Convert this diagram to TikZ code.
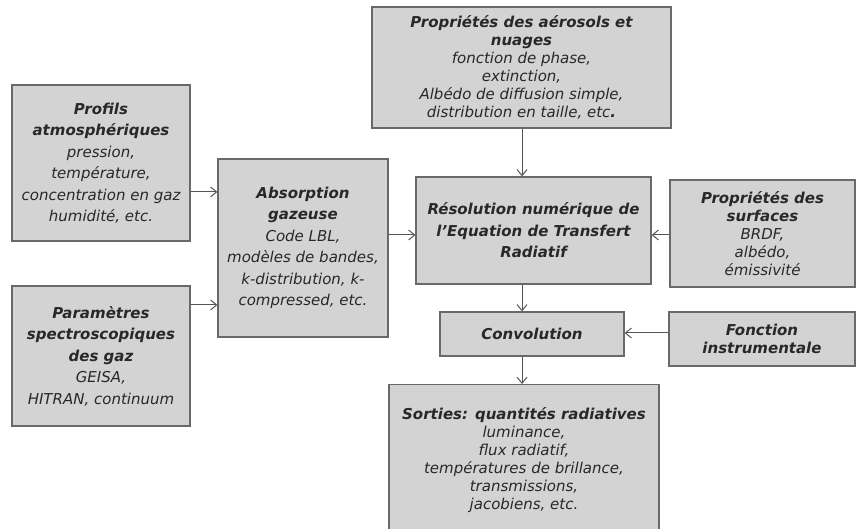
\documentclass[tikz,border=0pt]{standalone}
\usepackage{fontspec}
\setmainfont{DejaVu Sans}
\usetikzlibrary{arrows.meta}
\definecolor{boxfill}{RGB}{211,211,211}
\definecolor{boxline}{RGB}{105,105,105}
\definecolor{txt}{RGB}{40,40,40}
\definecolor{arrowc}{RGB}{85,85,85}
\tikzset{
  blk/.style={draw=boxline, line width=1.3pt, fill=boxfill, text=txt, align=center, inner sep=2pt, font=\fontsize{15}{21.5}\selectfont\itshape},
  tight/.style={font=\fontsize{15}{18}\selectfont\itshape},
  arr/.style={draw=arrowc, line width=1pt, -{Straight Barb[length=6pt,width=10pt]}}
}
\newcommand{\ttl}[1]{\textbf{#1}}
\begin{document}
\begin{tikzpicture}[x=1pt,y=1pt]
\useasboundingbox (0,0) rectangle (858,529);
% boxes (y = 529 - pixel y)
\node[blk, minimum width=178pt, minimum height=156pt] (prof) at (101,366) {\ttl{Profils}\\\ttl{atmosphériques}\\pression,\\température,\\concentration en gaz\\humidité, etc.};
\node[blk, minimum width=178pt, minimum height=140pt] (param) at (101,173) {\ttl{Paramètres}\\\ttl{spectroscopiques}\\\ttl{des gaz}\\GEISA,\\HITRAN, continuum};
\node[blk, minimum width=170pt, minimum height=178pt] (absorp) at (303,281) {\ttl{Absorption}\\\ttl{gazeuse}\\Code LBL,\\modèles de bandes,\\k-distribution, k-\\compressed, etc.};
\node[blk, tight, minimum width=299pt, minimum height=121pt] (aero) at (521.5,461.5) {\ttl{Propriétés des aérosols et}\\\ttl{nuages}\\fonction de phase,\\extinction,\\Albédo de diffusion simple,\\distribution en taille, etc\textbf{.}};
\node[blk, minimum width=235pt, minimum height=107pt] (reso) at (533.5,298.5) {\ttl{Résolution numérique de}\\\ttl{l’Equation de Transfert}\\\ttl{Radiatif}};
\node[blk, tight, minimum width=185pt, minimum height=107pt] (surf) at (762.5,295.5) {\ttl{Propriétés des}\\\ttl{surfaces}\\BRDF,\\albédo,\\émissivité};
\node[blk, minimum width=184pt, minimum height=44pt] (conv) at (532,195) {\ttl{Convolution}};
\node[blk, tight, minimum width=186pt, minimum height=54pt] (fonc) at (762,190) {\ttl{Fonction}\\\ttl{instrumentale}};
\node[blk, tight, minimum width=270pt, minimum height=151pt, anchor=north] (sort) at (524,145) {\ttl{Sorties: quantités radiatives}\\luminance,\\flux radiatif,\\températures de brillance,\\transmissions,\\jacobiens, etc.};
% arrow heights
\coordinate (h1) at (0,337);
\coordinate (h2) at (0,224);
\coordinate (h3) at (0,294);
\coordinate (h4) at (0,196);
\coordinate (v1) at (522,0);
% connectors
\draw[arr] (prof.east |- h1) -- (absorp.west |- h1);
\draw[arr] (param.east |- h2) -- (absorp.west |- h2);
\draw[arr] (absorp.east |- h3) -- (reso.west |- h3);
\draw[arr] (surf.west |- h3) -- (reso.east |- h3);
\draw[arr] (aero.south -| v1) -- (reso.north -| v1);
\draw[arr] (reso.south -| v1) -- (conv.north -| v1);
\draw[arr] (fonc.west |- h4) -- (conv.east |- h4);
\draw[arr] (conv.south -| v1) -- (sort.north -| v1);
\end{tikzpicture}
\end{document}
